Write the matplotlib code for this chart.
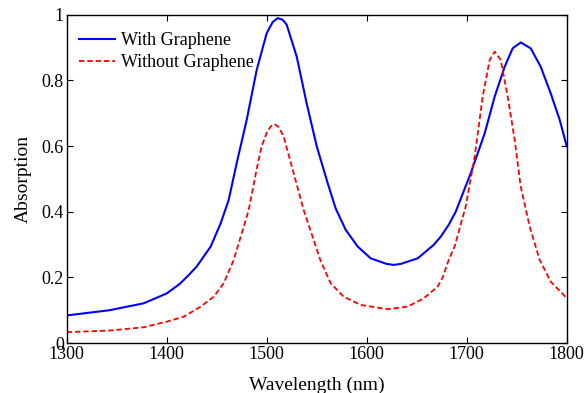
import numpy as np
import matplotlib.pyplot as plt
from matplotlib.ticker import FixedLocator

plt.rcParams['font.family'] = ['Liberation Serif', 'DejaVu Serif']

# values (wavelength in nm, absorption)
wl_with = [1300, 1343, 1377, 1400, 1413, 1422, 1430, 1444, 1454, 1462, 1470, 1480,
           1490, 1500, 1506, 1511, 1516, 1520, 1530, 1540, 1550, 1561, 1569,
           1579, 1591, 1604, 1620, 1627, 1634, 1651, 1667, 1674, 1682, 1689, 1704,
           1718, 1728, 1738, 1746, 1754, 1764, 1774, 1784, 1793, 1800]
ab_with = [0.084, 0.100, 0.121, 0.151, 0.180, 0.207, 0.233, 0.294, 0.365, 0.436, 0.548, 0.68,
           0.832, 0.944, 0.978, 0.99, 0.985, 0.97, 0.873, 0.73, 0.60, 0.487, 0.41,
           0.345, 0.294, 0.258, 0.241, 0.238, 0.241, 0.258, 0.299, 0.324, 0.36, 0.40, 0.517,
           0.639, 0.751, 0.842, 0.898, 0.916, 0.898, 0.842, 0.761, 0.68, 0.60]

wl_without = [1300, 1343, 1377, 1400, 1417, 1434, 1447, 1457, 1467, 1475, 1482, 1490,
              1495, 1500, 1504, 1508, 1512, 1517, 1527, 1537, 1547, 1554, 1564, 1577,
              1594, 1621, 1641, 1657, 1671, 1676, 1682, 1688, 1699, 1708, 1716, 1723,
              1728, 1734, 1741, 1748, 1754, 1763, 1773, 1784, 1800]
ab_without = [0.033, 0.038, 0.048, 0.065, 0.080, 0.111, 0.141, 0.182, 0.253, 0.334, 0.405, 0.53,
              0.60, 0.64, 0.66, 0.667, 0.658, 0.629, 0.517, 0.405, 0.314, 0.25, 0.182, 0.141,
              0.116, 0.103, 0.111, 0.136, 0.172, 0.20, 0.253, 0.295, 0.416, 0.568, 0.751, 0.863,
              0.888, 0.863, 0.751, 0.619, 0.477, 0.355, 0.253, 0.187, 0.137]

xticks = [1300, 1400, 1500, 1600, 1700, 1800]
yticks = [0, 0.2, 0.4, 0.6, 0.8, 1]
ylabels = ['0', '0.2', '0.4', '0.6', '0.8', '1']

fig = plt.figure(figsize=(5.87, 3.93), dpi=100)
ax = fig.add_axes([0.1136, 0.1272, 0.8518, 0.835])

ax.plot(wl_with, ab_with, '-', color='#0000ff', lw=1.5, label='With Graphene')
ax.plot(wl_without, ab_without, '--', color='#ff0000', lw=1.3, dashes=(3, 1.6),
        label='Without Graphene')

ax.set_xlim(1300, 1800)
ax.set_ylim(0, 1)
ax.xaxis.set_major_locator(FixedLocator(xticks))
ax.set_yticks(yticks)
ax.set_yticklabels(ylabels)
ax.tick_params(direction='in', top=True, right=True, labelsize=13, length=4, width=0.8,
               pad=2)
for s in ax.spines.values():
    s.set_linewidth(1.0)

ax.set_xlabel('Wavelength (nm)', fontsize=14, labelpad=10)
ax.set_ylabel('Absorption', fontsize=14, labelpad=7)

ax.legend(loc='upper left', frameon=False, fontsize=13, handlelength=2.0,
          handletextpad=0.3, borderaxespad=0.3, labelspacing=0.25,
          bbox_to_anchor=(0.0, 0.985))

plt.savefig('out.png', dpi=100)
